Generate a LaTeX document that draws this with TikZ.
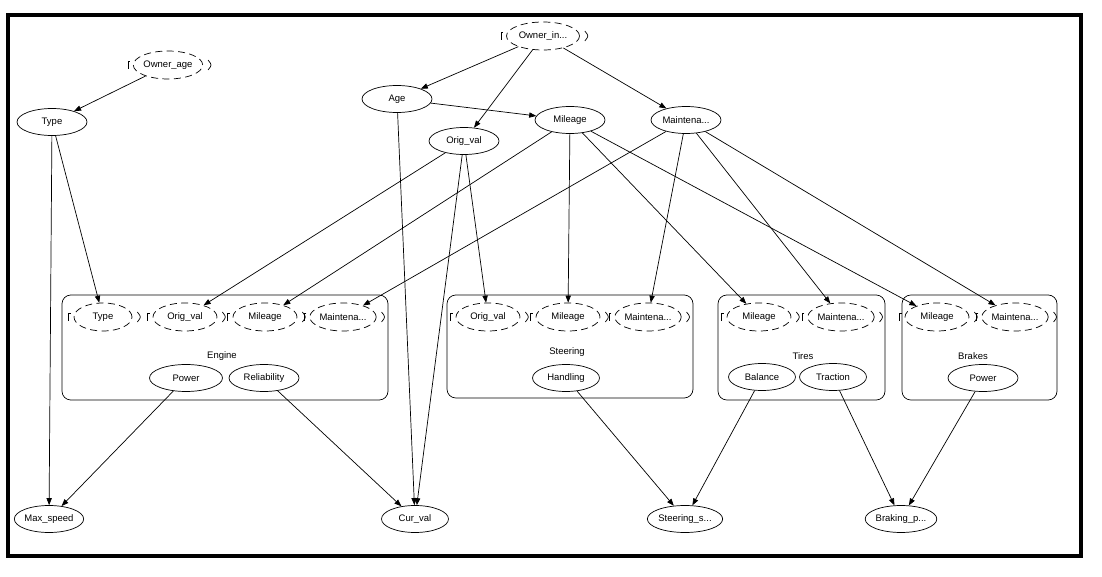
\documentclass[tikz,border=0pt]{standalone}
\usepackage{fontspec}
\setmainfont{Liberation Sans}
\usetikzlibrary{arrows.meta,shapes.geometric}
\newcommand{\ft}{\fontsize{5.4}{6}\selectfont}
% little side marks of the dashed (input) nodes
\newcommand{\brk}[1]{%
  \draw ([shift={(-3,-4)}]#1.west) -- ([shift={(-5,-4)}]#1.west) -- ([shift={(-5,4)}]#1.west);
  \draw ([shift={( 5,-5)}]#1.east) .. controls ([shift={(9,0)}]#1.east) .. ([shift={(5,5)}]#1.east);}

\begin{document}
\begin{tikzpicture}[x=0.02cm,y=-0.02cm,
    var/.style   ={ellipse,draw,inner sep=0pt,minimum width=1.4cm,minimum height=0.54cm,font=\ft},
    inp/.style   ={var,dashed,dash pattern=on 4pt off 2.5pt,minimum width=1.28cm,minimum height=0.56cm},
    cluster/.style={draw,rounded corners=5pt},
    lbl/.style   ={font=\ft},
    edge/.style  ={-{Triangle[length=4pt,width=3pt]}}]
  \useasboundingbox (0,0) rectangle (1102,577);
  \draw[line width=2pt] (8,15) rectangle (1081,556);

  % clusters
  \draw[cluster] (  62,295) rectangle ( 388,400);
  \draw[cluster] ( 447,295) rectangle ( 693,398);
  \draw[cluster] ( 718,295) rectangle ( 885,400);
  \draw[cluster] ( 902,295) rectangle (1057,400);
  \node[lbl] (eng) at (222,356) {Engine};
  \node[lbl] (ste) at (567,352) {Steering};
  \node[lbl] (tir) at (803,356) {Tires};
  \node[lbl] (bra) at (973,356) {Brakes};

  % top level
  \node[inp,minimum width=1.32cm] (oage) at (168, 65) {Owner\_age};
  \node[inp,minimum width=1.46cm] (oinf) at (543, 36) {Owner\_in...};
  \node[var] (type) at ( 52,122) {Type};
  \node[var] (age)  at (397, 99) {Age};
  \node[var] (orig) at (464,141) {Orig\_val};
  \node[var] (mile) at (570,120) {Mileage};
  \node[var] (mnt)  at (686,120) {Maintena...};

  % inside the clusters
  \node[inp,minimum width=1.16cm] (etype) at (103,317) {Type};
  \node[inp] (eorig) at ( 185,317) {Orig\_val};
  \node[inp] (emile) at ( 265,317) {Mileage};
  \node[inp] (emnt)  at ( 343,317) {Maintena...};
  \node[inp] (sorig) at ( 488,317) {Orig\_val};
  \node[inp] (smile) at ( 568,317) {Mileage};
  \node[inp] (smnt)  at ( 648,317) {Maintena...};
  \node[inp] (tmile) at ( 759,317) {Mileage};
  \node[inp] (tmnt)  at ( 841,317) {Maintena...};
  \node[inp] (bmile) at ( 937,317) {Mileage};
  \node[inp] (bmnt)  at (1015,317) {Maintena...};
  \node[var,minimum width=1.46cm] (epow)  at (186,378) {Power};
  \node[var]                      (erel)  at (264,378) {Reliability};
  \node[var,minimum width=1.34cm] (shand) at (566,378) {Handling};
  \node[var,minimum width=1.34cm] (tbal)  at (762,377) {Balance};
  \node[var,minimum width=1.34cm] (ttra)  at (833,377) {Traction};
  \node[var]                      (bpow)  at (983,378) {Power};

  % outputs
  \node[var,minimum width=1.32cm] (maxs)  at ( 49,519) {Max\_speed};
  \node[var,minimum width=1.34cm] (curv)  at (415,519) {Cur\_val};
  \node[var,minimum width=1.32cm] (steer) at (685,519) {Steering\_s...};
  \node[var,minimum width=1.36cm] (brake) at (901,519) {Braking\_p...};

  \brk{oage}
  \brk{oinf}
  \brk{etype}
  \brk{eorig}
  \brk{emile}
  \brk{emnt}
  \brk{sorig}
  \brk{smile}
  \brk{smnt}
  \brk{tmile}
  \brk{tmnt}
  \brk{bmile}
  \brk{bmnt}

  \draw[edge] (oage)  -- (type);
  \draw[edge] (oinf)  -- (age);
  \draw[edge] (oinf)  -- (orig);
  \draw[edge] (oinf)  -- (mnt);
  \draw[edge] (age)   -- (mile);
  \draw[edge] (age)   -- (curv);
  \draw[edge] (type)  -- (maxs);
  \draw[edge] (type)  -- (etype);
  \draw[edge] (orig)  -- (eorig);
  \draw[edge] (orig)  -- (sorig);
  \draw[edge] (orig)  -- (curv);
  \draw[edge] (mile)  -- (emile);
  \draw[edge] (mile)  -- (smile);
  \draw[edge] (mile)  -- (tmile);
  \draw[edge] (mile)  -- (bmile);
  \draw[edge] (mnt)   -- (emnt);
  \draw[edge] (mnt)   -- (smnt);
  \draw[edge] (mnt)   -- (tmnt);
  \draw[edge] (mnt)   -- (bmnt);
  \draw[edge] (epow)  -- (maxs);
  \draw[edge] (erel)  -- (curv);
  \draw[edge] (shand) -- (steer);
  \draw[edge] (tbal)  -- (steer);
  \draw[edge] (ttra)  -- (brake);
  \draw[edge] (bpow)  -- (brake);
\end{tikzpicture}
\end{document}
